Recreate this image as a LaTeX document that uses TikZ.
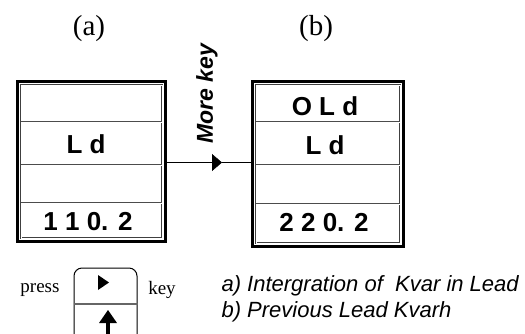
\documentclass[tikz,border=0pt]{standalone}
\usepackage{fontspec}
\setmainfont{Liberation Serif}
\setsansfont{Liberation Sans}
\usetikzlibrary{positioning, arrows.meta}
\tikzset{
display/.style={draw, line width=3pt, inner sep=0pt},
inner/.style={draw=black!75, double=white, double distance=0.8pt, line width=0.5pt},
rowline/.style={draw=black!70, double=white, double distance=0.9pt, line width=0.6pt},
seg/.style={font=\sffamily\bfseries\fontsize{26}{30}\selectfont},
tag/.style={font=\fontsize{29}{34}\selectfont},
keycap/.style={draw, line width=1pt, rounded corners=8pt, minimum width=63pt, minimum height=84pt},
note/.style={font=\sffamily\itshape\fontsize{22}{26}\selectfont, anchor=west},
}

\begin{document}
\begin{tikzpicture}[x=1pt, y=-1pt]
    \clip (0,0) rectangle (525,333);
    % displays
    \node[display, minimum width=148pt, minimum height=160pt] (d1) at (91.5,161.5) {};
    \node[display, minimum width=151pt, minimum height=165pt] (d2) at (328,164) {};
    \draw[inner] ([shift={(5pt,-5pt)}]d1.north west) rectangle ([shift={(-5pt,5pt)}]d1.south east);
    \draw[inner] ([shift={(5pt,-5pt)}]d2.north west) rectangle ([shift={(-5pt,5pt)}]d2.south east);
    \foreach \y in {122,165,203}
        \draw[rowline] ([xshift=5pt]d1.west |- 0,\y) -- ([xshift=-5pt]d1.east |- 0,\y);
    \foreach \y in {122,165,204}
        \draw[rowline] ([xshift=5pt]d2.west |- 0,\y) -- ([xshift=-5pt]d2.east |- 0,\y);
    \node[tag] (ta) at (89,29) {(a)};
    \node[tag] (tb) at (316,29) {(b)};
    \node[seg] (la) at (86,144) {L d};
    \node[seg] (va) at (88,222) {1 1 0. 2};
    \node[seg] (ob) at (325,106) {O L d};
    \node[seg] (lb) at (325,145) {L d};
    \node[seg] (vb) at (324,223) {2 2 0. 2};
    % more key
    \coordinate (tip) at (222,162.5);
    \draw[-{Triangle[length=10pt,width=17pt]}] (d1.east |- tip) -- (tip);
    \draw (tip) -- (d2.west |- tip);
    \node[rotate=90, font=\sffamily\bfseries\itshape\fontsize{23}{27}\selectfont] (more) at (207,94) {More key};
    % key
    \node[keycap] (k) at (105.5,310) {};
    \draw[draw=black!60, line width=1.2pt] (k.west |- 0,304) -- (k.east |- 0,304);
    \fill (98,275) -- (109,282.5) -- (98,290) -- cycle;
    \fill (99,323) -- (108,310) -- (117,323) -- cycle;
    \fill (106,322) rectangle (110,340);
    \node[font=\fontsize{19}{22}\selectfont] (press) at (40,290) {press};
    \node[font=\fontsize{19}{22}\selectfont] (kw) at (162,290) {key};
    % notes
    \node[note] (na) at (218,286) {a) Intergration of\ \ Kvar in Lead};
    \node[note] (nb) at (218,312) {b) Previous Lead Kvarh};
\end{tikzpicture}
\end{document}
